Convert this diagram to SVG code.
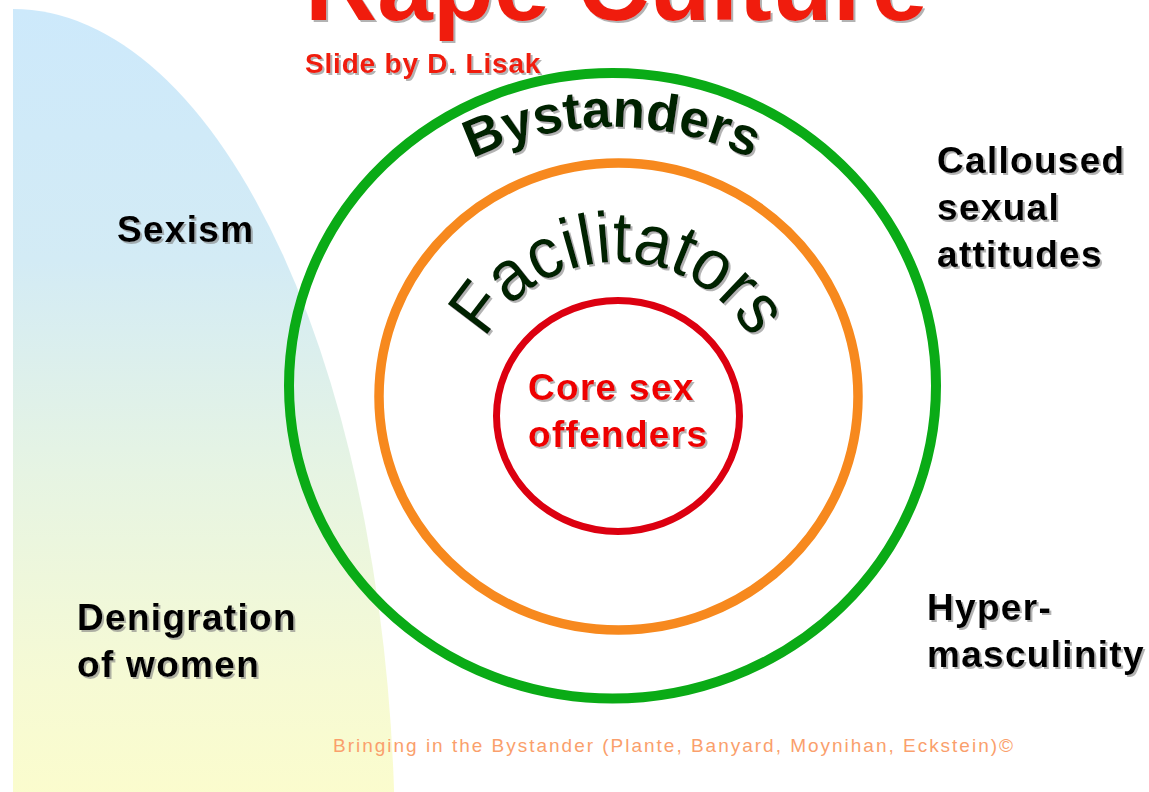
<svg xmlns="http://www.w3.org/2000/svg" width="1149" height="792" viewBox="0 0 1149 792">
  <defs>
    <linearGradient id="bgGrad" x1="0" y1="0" x2="0" y2="1">
      <stop offset="0" stop-color="#cde9fb"/>
      <stop offset="0.3" stop-color="#d3ebf5"/>
      <stop offset="0.55" stop-color="#e6f4e3"/>
      <stop offset="0.8" stop-color="#f6fad4"/>
      <stop offset="1" stop-color="#fdfdca"/>
    </linearGradient>
    <filter id="shadow" x="-10%" y="-20%" width="130%" height="150%">
      <feDropShadow dx="2" dy="2" stdDeviation="0.6" flood-color="#808080" flood-opacity="0.6"/>
    </filter>
    <path id="arcBystanders" d="M333.1,288 A322,322 0 0 1 890.9,288"/>
    <path id="arcFacilitators" d="M467.3,388.4 A153,153 0 0 1 768.7,388.4"/>
  </defs>
  <style>
    .bold { font-family: "Liberation Sans", Arial, sans-serif; font-weight: bold; }
    .label { font-family: "Liberation Sans", Arial, sans-serif; font-weight: bold; font-size: 37px; letter-spacing: 1.3px; fill: #000; filter: url(#shadow); }
    .red { fill: #f01e0a; }
    .ring { fill: none; }
    .arc { fill: #002000; font-family: "Liberation Sans", Arial, sans-serif; filter: url(#shadow); }
  </style>

  <rect x="0" y="0" width="1149" height="792" fill="#ffffff"/>

  <g id="background">
    <path d="M13,850 L13,9 A382,841 0 0 1 395,850 Z" fill="url(#bgGrad)"/>
  </g>

  <g id="title">
    <text class="bold red" x="305" y="20" font-size="100" filter="url(#shadow)">Rape Culture</text>
    <text class="bold red" x="305" y="73" font-size="28" letter-spacing="0.8" filter="url(#shadow)">Slide by D. Lisak</text>
  </g>

  <g id="node-bystanders">
    <ellipse class="ring" cx="612.5" cy="385.8" rx="323.5" ry="312.8" stroke="#0aab16" stroke-width="10"/>
    <text class="arc" font-size="53" font-weight="bold"><textPath href="#arcBystanders" startOffset="50%" text-anchor="middle">Bystanders</textPath></text>
  </g>

  <g id="node-facilitators">
    <ellipse class="ring" cx="618.5" cy="396.5" rx="239.5" ry="233.5" stroke="#f7891e" stroke-width="9.5"/>
    <text class="arc" font-size="72"><textPath href="#arcFacilitators" startOffset="50%" text-anchor="middle" textLength="322" lengthAdjust="spacingAndGlyphs">Facilitators</textPath></text>
  </g>

  <g id="node-core">
    <ellipse class="ring" cx="618" cy="416" rx="121.5" ry="115.5" stroke="#dc0010" stroke-width="7"/>
    <text class="label" x="528" y="400" style="fill:#ee0000">Core sex</text>
    <text class="label" x="528" y="447" style="fill:#ee0000">offenders</text>
  </g>

  <g id="label-sexism">
    <text class="label" x="117" y="242">Sexism</text>
  </g>

  <g id="label-denigration">
    <text class="label" x="77" y="630">Denigration</text>
    <text class="label" x="77" y="677">of women</text>
  </g>

  <g id="label-calloused">
    <text class="label" x="937" y="173">Calloused</text>
    <text class="label" x="937" y="220">sexual</text>
    <text class="label" x="937" y="267">attitudes</text>
  </g>

  <g id="label-hyper">
    <text class="label" x="927" y="620">Hyper-</text>
    <text class="label" x="927" y="667">masculinity</text>
  </g>

  <g id="credit">
    <text x="333" y="752" font-family="Liberation Sans, Arial, sans-serif" font-size="19" fill="#fa9f6c" textLength="680" lengthAdjust="spacing">Bringing in the Bystander (Plante, Banyard, Moynihan, Eckstein)©</text>
  </g>
</svg>
